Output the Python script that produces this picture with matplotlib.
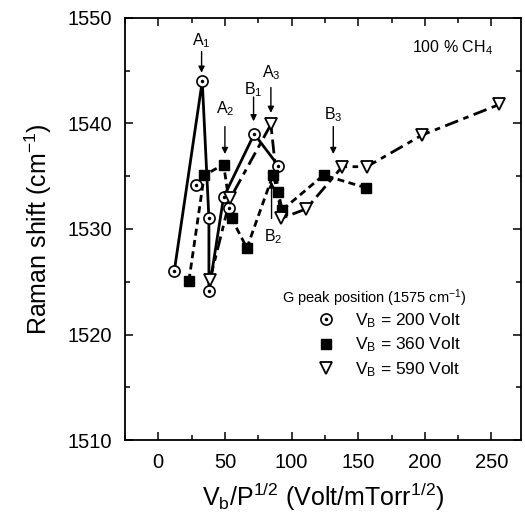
import matplotlib
matplotlib.use("Agg")
import matplotlib.pyplot as plt
from matplotlib.ticker import MultipleLocator
from matplotlib.legend_handler import HandlerTuple
from matplotlib.lines import Line2D

plt.rcParams['font.family'] = ['Liberation Sans', 'DejaVu Sans']
plt.rcParams['mathtext.fontset'] = 'custom'
plt.rcParams['mathtext.rm'] = 'Liberation Sans'
plt.rcParams['mathtext.it'] = 'Liberation Sans'

# 200 Volt (circles, solid line)
x200 = [12, 28, 33, 38, 38, 49, 53, 72, 90]
y200 = [1526, 1534.2, 1544, 1531, 1524.1, 1533, 1532, 1539, 1536]
line200 = [0, 2, 3, 4, 5, 7, 8]   # points joined by the curve

# 360 Volt (filled squares, dashed)
x360 = [23, 34.5, 49, 55, 66.5, 86, 90, 93, 124, 156]
y360 = [1525.1, 1535.1, 1536.1, 1531, 1528.2, 1535.1, 1533.5, 1531.8, 1535.1, 1533.9]

# 590 Volt (open down triangles, dash-dot)
x590 = [38.8, 54, 84.5, 92, 111, 138, 156.5, 198, 256]
y590 = [1525.2, 1532.9, 1539.9, 1531, 1531.9, 1535.9, 1535.9, 1538.9, 1541.8]

# Arrow annotations: label, x, label y, arrow start y, arrow end y
ann_labels = ['A$_1$', 'A$_2$', 'B$_1$', 'A$_3$', 'B$_3$']
ann_x = [32.5, 50, 71.5, 84.5, 131.3]
ann_ly = [1547.8, 1541.4, 1543.2, 1544.8, 1540.8]
ann_y0 = [1546.8, 1539.7, 1542.5, 1543.4, 1539.7]
ann_y1 = [1544.8, 1537.1, 1540.2, 1541.0, 1537.1]

legend_labels = ['V$_\\mathrm{B}$ = 200 Volt', 'V$_\\mathrm{B}$ = 360 Volt', 'V$_\\mathrm{B}$ = 590 Volt']

fig = plt.figure(figsize=(5.25, 5.24), dpi=100)
ax = fig.add_axes([0.238, 0.160, 0.754, 0.806])

lw = 2.0
ax.plot([x200[i] for i in line200], [y200[i] for i in line200], '-', color='black', lw=lw, zorder=2)
ax.plot(x360, y360, '--', color='black', lw=lw, dashes=(2.5, 1.6), zorder=2)
ax.plot(x590, y590, color='black', lw=lw, dashes=(5, 2, 2, 2), zorder=2)

ax.plot(x200, y200, 'o', ms=8, mfc='white', mec='black', mew=1.2, zorder=4)
ax.plot(x200, y200, '.', ms=3, color='black', zorder=5)
ax.plot(x360, y360, 's', ms=7, mfc='black', mec='black', zorder=4)
ax.plot(x590, y590, 'v', ms=9, mfc='white', mec='black', mew=1.3, zorder=4)

for lab, x, ly, y0, y1 in zip(ann_labels, ann_x, ann_ly, ann_y0, ann_y1):
    ax.text(x, ly, lab, ha='center', va='center', fontsize=11.5)
    ax.annotate('', xy=(x, y1), xytext=(x, y0),
                arrowprops=dict(arrowstyle='-|>', color='black', lw=1.0,
                                mutation_scale=9, shrinkA=0, shrinkB=0))

# B2 label below, arrow pointing up
ax.text(86.5, 1529.3, 'B$_2$', ha='center', va='center', fontsize=11.5)
ax.annotate('', xy=(85, 1534.5), xytext=(85, 1531.0),
            arrowprops=dict(arrowstyle='-|>', color='black', lw=1.0,
                            mutation_scale=9, shrinkA=0, shrinkB=0))

ax.text(221, 1547.2, '100 % CH$_4$', ha='center', va='center', fontsize=11.5)

ax.set_xlim(-25, 272)
ax.set_ylim(1510, 1550)
ax.xaxis.set_major_locator(MultipleLocator(50))
ax.xaxis.set_minor_locator(MultipleLocator(25))
ax.yaxis.set_major_locator(MultipleLocator(10))
ax.yaxis.set_minor_locator(MultipleLocator(5))
ax.tick_params(which='both', direction='in', top=True, right=True, labelsize=14.5, width=1.1)
ax.tick_params(which='major', length=6, pad=9)
ax.tick_params(which='minor', length=3.5)
for s in ax.spines.values():
    s.set_linewidth(1.3)

ax.set_xlabel('V$_\\mathrm{b}$/P$^{1/2}$ (Volt/mTorr$^{1/2}$)', fontsize=18, labelpad=7)
ax.set_ylabel('Raman shift (cm$^{-1}$)', fontsize=18, labelpad=10)

# legend title
ax.text(0.398, 0.337, 'G peak position (1575 cm$^{-1}$)', transform=ax.transAxes,
        ha='left', va='center', fontsize=10.5)

h1 = (Line2D([], [], ls='none', marker='o', ms=8, mfc='white', mec='black', mew=1.2),
      Line2D([], [], ls='none', marker='.', ms=3, color='black'))
h2 = Line2D([], [], ls='none', marker='s', ms=7, mfc='black', mec='black')
h3 = Line2D([], [], ls='none', marker='v', ms=9, mfc='white', mec='black', mew=1.3)
leg = ax.legend([h1, h2, h3], legend_labels,
                handler_map={tuple: HandlerTuple(ndivide=1, pad=0)},
                fontsize=12.5, frameon=False, loc='upper left',
                bbox_to_anchor=(0.485, 0.305), handletextpad=1.2, labelspacing=0.32,
                borderpad=0, borderaxespad=0, handlelength=1.0)

fig.savefig('out.png', dpi=100)
